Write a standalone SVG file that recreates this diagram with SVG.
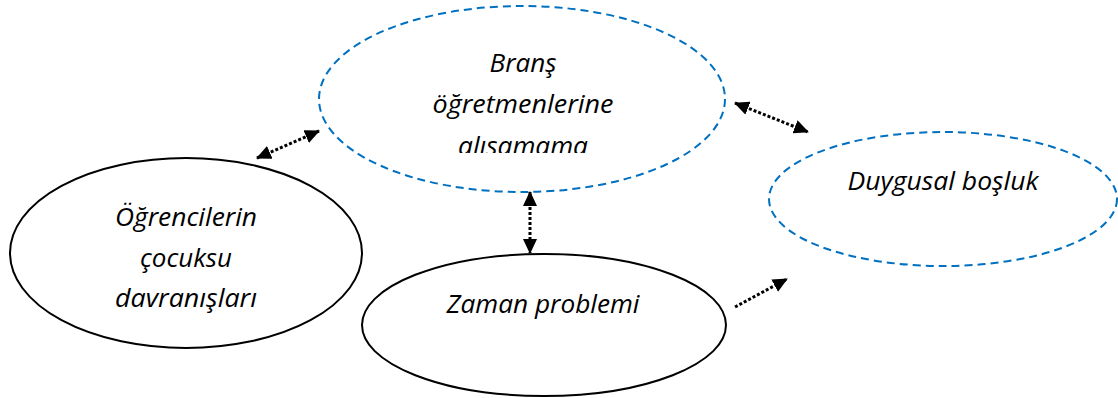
<svg xmlns="http://www.w3.org/2000/svg" width="1118" height="398" viewBox="0 0 1118 398">
<style>
.solid{fill:#fff;stroke:#000;stroke-width:2}
.dash{fill:#fff;stroke:#0070C0;stroke-width:2;stroke-dasharray:8 5}
.lbl{font-family:"Open Sans","Noto Sans",sans-serif;font-style:italic;font-size:25px;fill:#000;text-anchor:middle}
.con{stroke:#000;stroke-width:3;stroke-dasharray:3 2;fill:none}
</style>
<defs>
<marker id="ah" viewBox="0 0 15 14" refX="14" refY="7" markerWidth="15" markerHeight="14" markerUnits="userSpaceOnUse" orient="auto-start-reverse">
<path d="M0,0 L15,7 L0,14 Z" fill="#000"/>
</marker>
<clipPath id="clipB"><rect x="320" y="0" width="410" height="153"/></clipPath>
</defs>
<g id="node-brans">
<ellipse class="dash" cx="522" cy="99" rx="203" ry="93"/>
<g clip-path="url(#clipB)">
<text class="lbl" x="523" y="72" textLength="67" lengthAdjust="spacingAndGlyphs">Branş</text>
<text class="lbl" x="523" y="113" textLength="181" lengthAdjust="spacingAndGlyphs">öğretmenlerine</text>
<text class="lbl" x="523" y="155" textLength="130" lengthAdjust="spacingAndGlyphs">alısamama</text>
</g>
</g>
<g id="node-duygusal">
<ellipse class="dash" cx="943" cy="199" rx="174" ry="67"/>
<text class="lbl" x="943" y="190" textLength="191" lengthAdjust="spacingAndGlyphs">Duygusal boşluk</text>
</g>
<g id="node-ogrenciler">
<ellipse class="solid" cx="186" cy="253" rx="176" ry="95"/>
<text class="lbl" x="186" y="226" textLength="142" lengthAdjust="spacingAndGlyphs">Öğrencilerin</text>
<text class="lbl" x="186" y="267" textLength="92" lengthAdjust="spacingAndGlyphs">çocuksu</text>
<text class="lbl" x="186" y="307" textLength="142" lengthAdjust="spacingAndGlyphs">davranışları</text>
</g>
<g id="node-zaman">
<ellipse class="solid" cx="544" cy="325" rx="182" ry="71"/>
<text class="lbl" x="543" y="313" textLength="193" lengthAdjust="spacingAndGlyphs">Zaman problemi</text>
</g>
<g id="connectors">
<line class="con" x1="257" y1="158" x2="319" y2="131" marker-start="url(#ah)" marker-end="url(#ah)"/>
<line class="con" x1="735" y1="103" x2="808" y2="132" marker-start="url(#ah)" marker-end="url(#ah)"/>
<line class="con" x1="530" y1="192" x2="530" y2="253" marker-start="url(#ah)" marker-end="url(#ah)"/>
<line class="con" x1="735" y1="307" x2="787" y2="279" marker-end="url(#ah)"/>
</g>
</svg>
